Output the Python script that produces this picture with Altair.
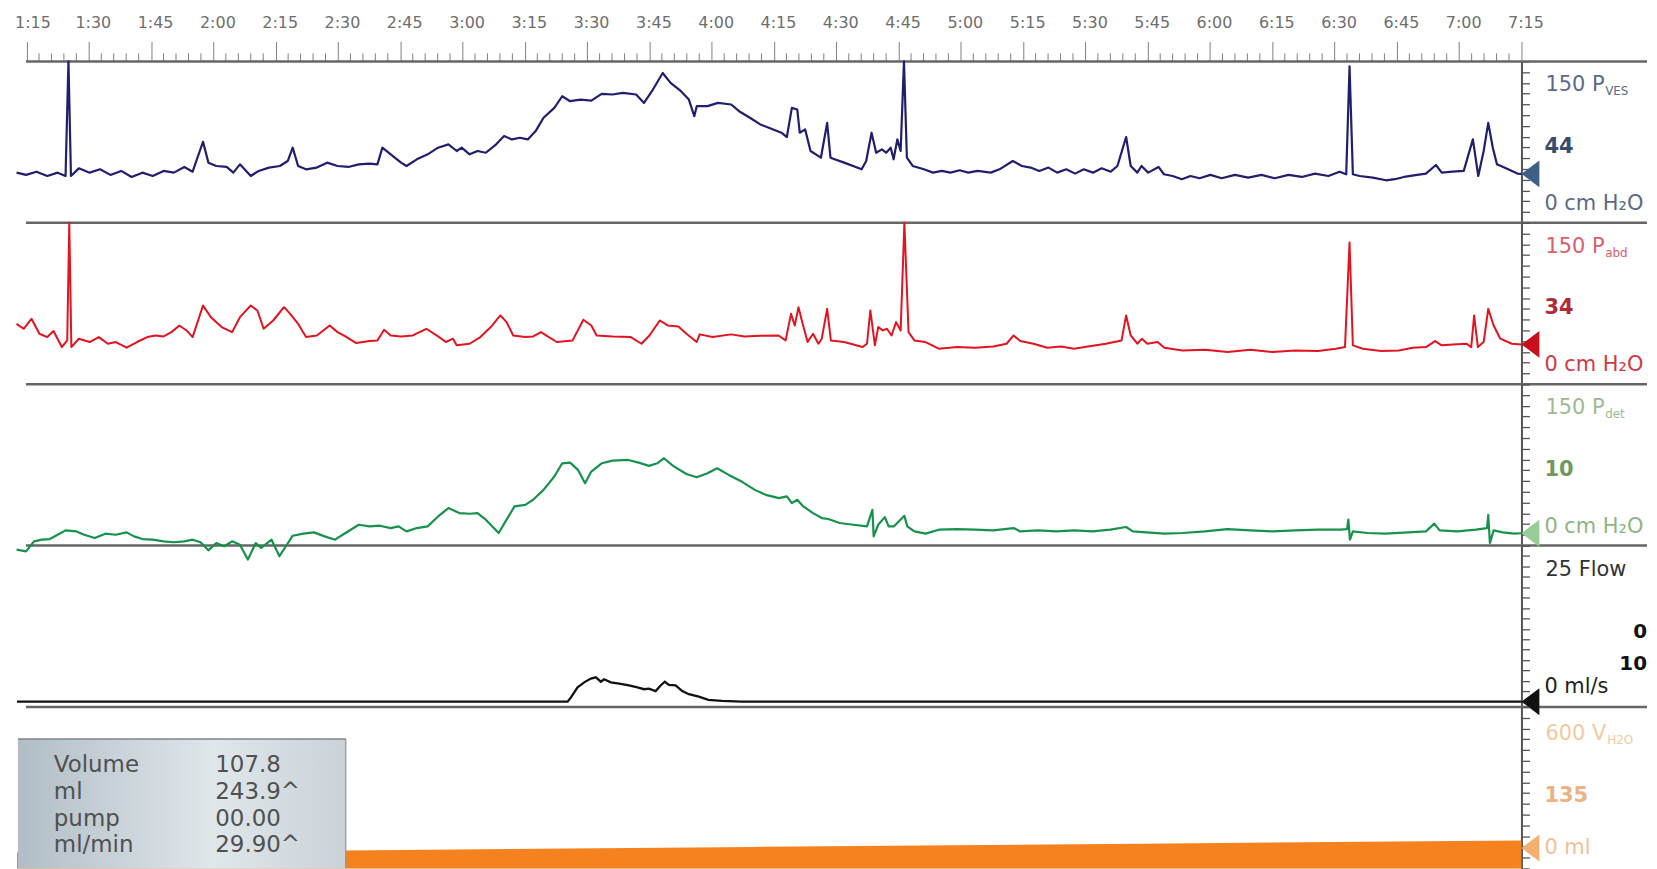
import altair as alt
import pandas as pd

# ---- data (time in seconds, values in native units) ----
PVES = [(72.6, 46.6), (74.9, 44.5), (77.4, 47.5), (80.0, 43.5), (82.5, 46.6), (84.4, 43.5), (85.1, 150), (85.7, 43.5),
        (87.6, 50.6), (90.2, 46.6), (92.7, 49.7), (95.2, 44.5), (97.8, 48.2), (100.3, 42.6), (102.9, 46.6), (105.4, 43.5),
        (108.0, 48.2), (110.5, 46.6), (113.0, 51.9), (115.0, 47.5), (117.5, 75.3), (118.8, 55.9), (120.7, 52.8), (123.2, 51.9),
        (124.8, 46.6), (126.4, 54.3), (129.0, 43.5), (130.9, 48.2), (133.4, 51.3), (136.0, 52.8), (137.9, 57.4), (139.1, 69.8),
        (140.4, 52.8), (142.3, 49.7), (144.9, 51.3), (147.4, 55.9), (149.9, 52.8), (152.5, 51.9), (155.0, 54.3), (157.6, 55.0),
        (159.5, 54.3), (160.7, 69.8), (162.7, 63.6), (165.2, 55.9), (166.5, 52.8), (169.0, 59.0), (171.6, 63.6), (174.1, 69.8),
        (176.6, 72.9), (178.6, 66.7), (179.8, 69.8), (181.7, 63.6), (183.6, 66.7), (185.6, 65.1), (188.1, 72.9), (190.0, 80.6),
        (191.9, 77.5), (193.8, 79.0), (195.7, 77.5), (197.6, 85.2), (199.5, 97.6), (202.1, 106.8), (204.0, 117.6), (205.9, 113.0),
        (208.4, 114.5), (211.0, 113.6), (213.5, 119.8), (216.1, 119.2), (218.6, 120.7), (221.8, 119.2), (223.7, 111.4), (225.6, 122.3),
        (228.2, 139.2), (230.1, 130.0), (232.6, 122.3), (234.5, 114.5), (235.8, 99.1), (236.4, 108.4), (239.0, 108.4), (241.5, 111.4),
        (244.7, 109.9), (246.6, 103.7), (249.2, 97.6), (251.7, 91.4), (254.2, 87.7), (256.8, 83.7), (258.1, 79.7), (259.3, 106.8),
        (260.6, 105.3), (261.2, 83.7), (262.5, 86.8), (263.8, 66.7), (266.3, 60.5), (267.8, 92.9), (268.6, 60.5), (271.9, 55.9),
        (276.1, 49.7), (277.2, 57.4), (278.5, 83.7), (279.6, 65.1), (281.0, 68.2), (282.0, 65.1), (283.1, 69.8), (283.8, 59.0),
        (284.7, 77.5), (285.5, 66.7), (286.3, 150), (287.0, 60.5), (288.4, 52.8), (291.1, 49.7), (293.3, 46.6), (295.4, 48.2),
        (297.5, 46.6), (299.7, 48.8), (301.8, 46.6), (304.0, 48.2), (307.2, 46.6), (309.3, 49.7), (312.5, 57.4), (314.7, 52.8),
        (316.8, 51.3), (318.9, 48.2), (321.1, 51.3), (323.2, 46.6), (325.4, 49.7), (327.5, 45.7), (329.6, 49.7), (331.8, 46.6),
        (333.9, 50.6), (336.1, 47.5), (337.7, 52.8), (339.8, 79.7), (340.9, 52.8), (342.5, 46.6), (343.5, 52.8), (345.1, 46.6),
        (347.6, 51.9), (348.9, 45.1), (351.0, 43.5), (353.2, 40.5), (355.3, 43.5), (357.5, 41.4), (360.1, 44.5), (362.8, 41.4),
        (366.0, 44.5), (369.2, 42.0), (372.4, 44.5), (375.6, 41.4), (378.9, 44.5), (382.1, 42.6), (385.3, 45.7), (388.5, 43.5),
        (391.2, 47.5), (392.8, 45.1), (393.6, 145.4), (394.4, 45.1), (396.0, 43.5), (399.2, 42.0), (402.4, 39.5), (404.5, 40.5),
        (406.7, 42.6), (409.9, 44.5), (412.0, 45.7), (414.4, 53.7), (415.8, 46.6), (418.4, 47.5), (421.1, 48.2), (423.3, 77.5),
        (424.6, 43.5), (425.9, 66.7), (427.0, 92.9), (428.1, 69.8), (429.1, 54.3), (431.8, 49.7), (434.0, 45.7), (435.0, 45.5)]

PABD = [(72.6, 56.1), (74.3, 51.5), (76.2, 60.8), (78.1, 46.9), (80.0, 43.8), (81.5, 49.4), (83.5, 34.5), (84.8, 40.7),
        (85.3, 150), (85.8, 34.5), (87.6, 42.2), (90.2, 39.2), (92.4, 43.8), (94.6, 37.6), (96.5, 39.2), (99.1, 33.9),
        (101.6, 39.2), (104.1, 43.8), (106.1, 45.3), (108.0, 44.4), (109.9, 48.4), (111.8, 54.6), (113.7, 49.4), (115.0, 43.8),
        (117.5, 73.1), (119.4, 62.3), (122.0, 53.1), (124.5, 48.4), (126.4, 62.3), (129.0, 73.1), (130.6, 68.5), (132.1, 51.5),
        (134.4, 59.2), (137.0, 71.6), (138.5, 65.4), (140.4, 56.1), (142.3, 43.8), (144.9, 45.3), (148.0, 54.6), (149.9, 48.4),
        (151.8, 44.4), (154.4, 38.2), (157.6, 40.1), (159.5, 40.7), (161.1, 50.6), (162.7, 45.3), (165.2, 44.4), (168.0, 45.3),
        (171.3, 51.5), (174.1, 44.4), (176.0, 39.2), (177.7, 42.3), (178.6, 36.1), (181.7, 37.6), (184.3, 43.8), (186.8, 53.1),
        (189.1, 63.9), (190.6, 57.7), (192.2, 45.3), (195.1, 43.8), (197.0, 44.4), (198.9, 48.4), (200.8, 43.8), (202.7, 39.2),
        (206.5, 40.7), (209.1, 59.9), (211.0, 54.6), (212.3, 45.3), (216.1, 44.4), (220.5, 43.8), (223.1, 37.6), (225.0, 45.3),
        (227.5, 59.2), (229.4, 54.6), (232.0, 53.7), (233.9, 46.9), (236.4, 39.2), (237.1, 46.3), (240.2, 43.8), (244.7, 46.3),
        (247.9, 44.4), (251.7, 45.0), (256.1, 45.3), (257.8, 40.7), (259.1, 65.4), (260.0, 54.6), (260.9, 71.6), (261.9, 56.1),
        (263.1, 39.2), (264.4, 46.9), (265.7, 37.6), (266.5, 42.3), (267.8, 70.0), (268.7, 40.7), (271.9, 39.2), (276.3, 34.5),
        (277.4, 37.6), (278.2, 68.5), (279.3, 36.1), (280.1, 53.1), (281.2, 50.0), (282.2, 51.5), (283.3, 45.3), (284.4, 57.7),
        (285.5, 50.0), (286.4, 150), (287.4, 48.4), (288.8, 40.7), (291.5, 39.2), (294.7, 33.0), (299.1, 34.5), (303.4, 33.9),
        (307.8, 35.1), (311.0, 37.6), (312.7, 45.3), (314.3, 40.1), (317.5, 37.6), (320.8, 33.9), (324.1, 35.1), (327.3, 33.0),
        (330.6, 35.1), (334.9, 37.6), (338.7, 40.7), (339.8, 63.9), (340.9, 45.3), (342.5, 37.6), (343.6, 42.3), (344.9, 37.6),
        (347.4, 39.2), (349.0, 33.9), (353.4, 31.4), (358.8, 32.1), (364.2, 29.9), (369.7, 32.1), (375.1, 29.9), (380.5, 31.4),
        (386.0, 30.8), (390.3, 33.0), (392.5, 34.5), (393.6, 131.8), (394.4, 36.1), (396.8, 33.0), (401.2, 30.8), (405.5, 31.4),
        (408.8, 33.9), (412.0, 34.5), (414.2, 40.1), (415.8, 36.1), (418.5, 37.0), (421.8, 37.6), (422.9, 34.5), (423.6, 63.9),
        (424.5, 34.5), (425.9, 39.2), (427.0, 70.0), (428.3, 54.6), (429.9, 42.3), (432.7, 37.6), (435.0, 37.0)]

PDET = [(72.6, -3.7), (74.9, -5.3), (76.8, 4.0), (78.7, 5.5), (80.6, 6.1), (82.5, 10.1), (84.4, 14.2), (87.0, 13.2),
        (88.9, 10.1), (91.4, 7.1), (94.0, 11.1), (96.5, 10.1), (99.1, 12.3), (100.9, 8.6), (102.9, 6.1), (105.4, 5.5),
        (108.0, 4.0), (110.5, 3.1), (113.0, 4.0), (115.0, 5.5), (116.9, 3.1), (118.8, -4.4), (120.7, 2.4), (122.6, -0.6),
        (124.5, 4.0), (126.4, 0.9), (128.3, -13.0), (130.2, 2.4), (131.5, -2.2), (134.0, 5.5), (135.9, -9.9), (139.1, 9.2),
        (141.7, 11.1), (144.2, 12.3), (146.8, 8.6), (149.3, 5.5), (151.8, 11.7), (155.0, 19.4), (157.6, 17.9), (160.1, 18.5),
        (162.7, 16.3), (164.6, 17.9), (166.5, 13.2), (169.0, 16.3), (171.6, 17.9), (174.1, 27.1), (176.6, 34.9), (179.2, 30.2),
        (181.7, 29.6), (183.6, 30.2), (185.6, 24.1), (188.7, 11.7), (190.6, 24.1), (192.5, 36.4), (195.1, 37.9), (197.0, 42.6),
        (199.5, 51.8), (202.1, 64.2), (204.0, 76.5), (205.9, 77.1), (207.8, 70.4), (209.5, 58.0), (211.0, 68.8), (213.5, 76.5),
        (216.1, 79.0), (219.9, 79.6), (222.4, 77.1), (224.9, 74.1), (226.9, 76.5), (228.5, 81.2), (230.7, 74.1), (233.9, 66.6),
        (236.4, 63.6), (239.0, 67.3), (241.3, 71.9), (244.1, 65.7), (247.2, 59.5), (250.4, 51.8), (253.0, 47.2), (256.2, 44.1),
        (258.1, 45.7), (259.3, 39.5), (260.6, 42.6), (261.9, 37.0), (264.4, 30.2), (266.5, 25.6), (268.1, 24.7), (270.8, 21.0),
        (274.1, 19.4), (277.4, 17.9), (278.7, 33.3), (279.0, 8.6), (280.1, 19.4), (281.7, 26.5), (282.6, 17.9), (283.9, 17.9),
        (286.4, 27.7), (287.1, 17.9), (288.8, 13.2), (291.5, 11.1), (294.7, 14.8), (299.1, 15.4), (303.4, 14.8), (307.8, 14.2),
        (312.7, 16.3), (314.3, 13.2), (318.6, 14.2), (323.0, 13.2), (327.3, 14.2), (331.7, 13.2), (336.0, 14.8), (339.8, 17.3),
        (341.4, 13.2), (344.7, 12.3), (349.0, 11.1), (353.4, 11.7), (358.8, 13.2), (364.2, 15.4), (369.7, 14.2), (375.1, 13.2),
        (380.5, 14.2), (386.0, 14.8), (391.4, 14.8), (393.0, 15.4), (393.3, 24.1), (393.7, 5.5), (394.4, 13.2), (397.9, 11.7),
        (402.2, 11.1), (407.7, 12.3), (412.0, 13.2), (414.0, 20.4), (415.3, 14.2), (419.6, 13.2), (424.0, 14.8), (426.7, 16.3),
        (427.0, 28.7), (427.4, 2.4), (428.3, 14.2), (430.5, 12.3), (433.2, 11.1), (435.0, 11.5)]

FLOW = [(72.7, 0), (205.3, 0), (206.1, 0.7), (207.7, 2.3), (209.3, 3.1), (210.9, 3.7), (212.1, 3.9), (213.3, 3.2),
        (214.1, 3.6), (215.7, 3.1), (217.7, 2.9), (220.1, 2.6), (222.1, 2.3), (223.7, 2.0), (224.9, 2.1), (226.5, 1.7),
        (227.7, 2.6), (228.7, 3.2), (229.7, 2.7), (231.3, 2.6), (232.9, 1.7), (234.5, 1.2), (236.9, 0.8), (239.2, 0.3),
        (242.4, 0.15), (247.2, 0), (435.0, 0)]

VOLUME = [(72.7, 60), (151.4, 67), (250.0, 80), (350.0, 93), (435.0, 104)]
VOL_MARK = 76

MAJOR_TICKS = [75 + 15 * k for k in range(25)]
MINOR_TICKS = [s for s in range(75, 436, 3) if s % 15]

BOX_NAMES = ["Volume", "ml", "pump", "ml/min"]
BOX_VALUES = ["107.8", "243.9^", "00.00", "29.90^"]

# ---- layout / style ----
T0, T1 = 72.7, 435.0
W, H = 1510, 162
FONT = "DejaVu Sans"
GRAY = "#666666"
LX = 1534   # right label x (plot coords)
XR = 1636   # right edge of the drawing (plot coords)
ONE = pd.DataFrame({"a": [0]})

xscale = alt.Scale(domain=[T0, T1], nice=False, zero=False)
x_top = alt.X(
    "t:Q", scale=xscale,
    axis=alt.Axis(orient="top", values=MAJOR_TICKS, title=None, grid=False, domain=False,
                  labelExpr="floor(datum.value / 60) + ':' + (datum.value % 60 < 10 ? '0' : '') + (datum.value % 60)",
                  tickSize=20, tickColor="#808080", tickWidth=1, labelFont=FONT, labelFontSize=16,
                  labelColor="#6e6e6e", labelPadding=11, labelFlush=False, labelOverlap=False,
                  labelOffset={"condition": {"test": "datum.value < 80", "value": 6}, "value": 4}))
x_plain = alt.X("t:Q", scale=xscale, axis=None)


def y_enc(domain, vals):
    return alt.Y("v:Q", scale=alt.Scale(domain=domain, nice=False, zero=False),
                 axis=alt.Axis(orient="right", values=vals, labels=False, title=None, grid=False,
                               tickSize=8, tickColor="#555555", tickWidth=1.3,
                               domainColor="#555555", domainWidth=2))


def txt(s, x, y, color, size=21, weight="normal", align="left"):
    return alt.Chart(ONE).mark_text(text=s, font=FONT, fontSize=size, fontWeight=weight, color=color,
                                    align=align, baseline="middle").encode(x=alt.value(x), y=alt.value(y))


def hrule(y, x0=9, x1=XR, color=GRAY, width=2.5):
    return alt.Chart(ONE).mark_rule(color=color, strokeWidth=width).encode(
        x=alt.value(x0), x2=alt.value(x1), y=alt.value(y))


TRI = "M 0 0 L 1.33 -1 L 1.33 1 Z"


def marker(t, v, x, y, color):
    df = pd.DataFrame({"t": [t], "v": [v]})
    return alt.Chart(df).mark_point(shape=TRI, size=729, filled=True, fill=color, opacity=1,
                                    strokeWidth=0).encode(x=x, y=y)


def labels3(top, sub, sub_dx, mid, bot, c_top, c_mid, c_bot, y1=24, y2=86, y3=143):
    return [txt(top, LX, y1, c_top),
            txt(sub, LX + sub_dx, y1 + 6, c_top, size=12),
            txt(mid, LX - 1, y2, c_mid, size=21, weight="bold"),
            txt(bot, LX - 1, y3, c_bot)]


def pressure_panel(pairs, color, lw, tri_color, top_axis, lab):
    df = pd.DataFrame(pairs, columns=["t", "v"])
    x = x_top if top_axis else x_plain
    y = y_enc([0, 150], list(range(0, 151, 10)))
    layers = []
    if top_axis:
        layers.append(alt.Chart(pd.DataFrame({"t": MINOR_TICKS})).mark_rule(color="#808080", strokeWidth=1)
                      .encode(x=x, y=alt.value(-8), y2=alt.value(0)))
        layers.append(hrule(0))
    layers.append(hrule(H))
    layers.append(alt.Chart(df).mark_line(color=color, strokeWidth=lw, strokeJoin="round").encode(x=x, y=y))
    layers.append(marker(pairs[-1][0], pairs[-1][1], x, y, tri_color))
    layers += lab
    return alt.layer(*layers).properties(width=W, height=H)


p1 = pressure_panel(PVES, "#1f1f6e", 2.2, "#3e5f86", True,
                    labels3("150 P", "VES", 60, "44", "0 cm H\u2082O", "#5b6b86", "#3a4c6c", "#5b6b86"))
p2 = pressure_panel(PABD, "#e3131f", 2.0, "#c8101c", False,
                    labels3("150 P", "abd", 60, "34", "0 cm H\u2082O", "#d9606a", "#b02a35", "#cf3a44"))
p3 = pressure_panel(PDET, "#17924c", 2.2, "#98cc98", False,
                    labels3("150 P", "det", 60, "10", "0 cm H\u2082O", "#9dbb93", "#6f9a5e", "#8fb584"))

# Flow panel
flow_df = pd.DataFrame(FLOW, columns=["t", "v"])
y_flow = y_enc([-0.85, 25], [25 * k / 15 for k in range(16)])
p4 = alt.layer(
    hrule(H),
    alt.Chart(flow_df).mark_line(color="#111111", strokeWidth=2.3).encode(x=x_plain, y=y_flow),
    marker(FLOW[-1][0], FLOW[-1][1], x_plain, y_flow, "#111111"),
    txt("25 Flow", LX, 24, "#333333"),
    txt("0", XR, 87, "#111111", size=20, weight="bold", align="right"),
    txt("10", XR, 119, "#111111", size=20, weight="bold", align="right"),
    txt("0 ml/s", LX - 1, 142, "#222222"),
).properties(width=W, height=H)

# Volume panel
vol_df = pd.DataFrame(VOLUME, columns=["t", "v"])
y_vol = y_enc([0, 600], list(range(0, 601, 40)))
box_fill = alt.LinearGradient(gradient="linear", x1=0, x2=1, y1=0, y2=0,
                              stops=[alt.GradientStop(color="#b1bdc5", offset=0),
                                     alt.GradientStop(color="#e0e7eb", offset=0.6),
                                     alt.GradientStop(color="#cad2d7", offset=1)])
BOX_TOP, BOX_R = 32, 330
box_layers = [
    alt.Chart(ONE).mark_rect(fill=box_fill, strokeWidth=0).encode(
        x=alt.value(1), x2=alt.value(BOX_R), y=alt.value(BOX_TOP), y2=alt.value(H)),
    hrule(BOX_TOP, x0=1, x1=BOX_R, color="#7c858b", width=1.5),
    alt.Chart(ONE).mark_rule(color="#8c959b", strokeWidth=1.2).encode(
        x=alt.value(BOX_R), y=alt.value(BOX_TOP), y2=alt.value(H)),
]
for i, (nm, val) in enumerate(zip(BOX_NAMES, BOX_VALUES)):
    box_layers.append(txt(nm, 37, 58 + 27 * i, "#505050", size=23))
    box_layers.append(txt(val, 199, 58 + 27 * i, "#505050", size=23))

p5 = alt.layer(
    alt.Chart(vol_df).mark_area(color="#f5821f", opacity=1).encode(x=x_plain, y=y_vol),
    *box_layers,
    marker(T1, VOL_MARK, x_plain, y_vol, "#f3b070"),
    txt("600 V", LX, 27, "#f3c9a0"),
    txt("H2O", LX + 62, 33, "#f3c9a0", size=12),
    txt("135", LX - 1, 89, "#ebb283", size=21, weight="bold"),
    txt("0 ml", LX - 1, 142, "#f0c196"),
).properties(width=W, height=H)

chart = alt.vconcat(p1, p2, p3, p4, p5, spacing=0, bounds="flush").properties(
    padding={"left": 4, "top": 5, "right": 0, "bottom": 0},
    background="white",
).configure_view(stroke=None)

chart.save("out.html", embed_options={"renderer": "svg", "actions": False})
